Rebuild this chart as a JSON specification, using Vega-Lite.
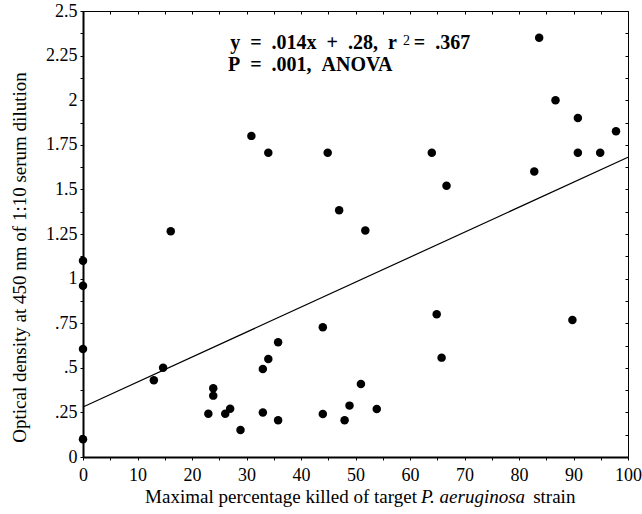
{
  "$schema": "https://vega.github.io/schema/vega-lite/v6.json",
  "autosize": {"type": "none"},
  "width": 545,
  "height": 446,
  "padding": {"left": 83, "top": 11, "right": 14, "bottom": 57},
  "background": "white",
  "config": {
    "view": {"stroke": null},
    "font": "Liberation Serif",
    "axis": {"labelFont": "Liberation Serif", "titleFont": "Liberation Serif", "labelColor": "black", "titleColor": "black", "domainColor": "black", "tickColor": "black", "grid": false, "labelOverlap": false, "labelFlush": false}
  },
  "datasets": {
    "points": [
      {"pct": 0, "od": 1.10}, {"pct": 0, "od": 0.96}, {"pct": 0, "od": 0.605}, {"pct": 0, "od": 0.10},
      {"pct": 13.0, "od": 0.43}, {"pct": 14.7, "od": 0.50}, {"pct": 16.1, "od": 1.265},
      {"pct": 23.0, "od": 0.243}, {"pct": 23.9, "od": 0.385}, {"pct": 23.9, "od": 0.344},
      {"pct": 26.1, "od": 0.243}, {"pct": 27.0, "od": 0.271}, {"pct": 28.9, "od": 0.151},
      {"pct": 30.9, "od": 1.80}, {"pct": 33.0, "od": 0.25}, {"pct": 33.0, "od": 0.493},
      {"pct": 34.0, "od": 0.549}, {"pct": 34.0, "od": 1.706}, {"pct": 35.8, "od": 0.643},
      {"pct": 35.8, "od": 0.206}, {"pct": 44.0, "od": 0.727}, {"pct": 44.0, "od": 0.241},
      {"pct": 44.9, "od": 1.706}, {"pct": 47.0, "od": 1.383}, {"pct": 48.0, "od": 0.206},
      {"pct": 48.9, "od": 0.288}, {"pct": 51.0, "od": 0.409}, {"pct": 51.8, "od": 1.27},
      {"pct": 53.9, "od": 0.269}, {"pct": 64.0, "od": 1.706}, {"pct": 64.9, "od": 0.80},
      {"pct": 65.8, "od": 0.557}, {"pct": 66.7, "od": 1.52}, {"pct": 82.8, "od": 1.60},
      {"pct": 83.7, "od": 2.35}, {"pct": 86.7, "od": 2.0}, {"pct": 89.8, "od": 0.768},
      {"pct": 90.8, "od": 1.90}, {"pct": 90.8, "od": 1.706}, {"pct": 94.9, "od": 1.706},
      {"pct": 97.8, "od": 1.826}
    ],
    "fit": [{"pct": 0, "od": 0.28}, {"pct": 100, "od": 1.68}]
  },
  "resolve": {"axis": {"x": "independent", "y": "independent"}},
  "layer": [
    {
      "data": {"name": "points"},
      "mark": {"type": "point", "filled": true, "shape": "circle", "size": 72, "color": "black", "opacity": 1},
      "encoding": {
        "x": {"field": "pct", "type": "quantitative", "scale": {"domain": [0, 100], "nice": false, "zero": false},
          "axis": {"orient": "bottom", "values": [0,5,10,15,20,25,30,35,40,45,50,55,60,65,70,75,80,85,90,95,100],
            "labelExpr": "datum.value % 10 === 0 ? datum.label : ''", "format": "d",
            "labelFontSize": 18, "labelPadding": 6, "tickSize": 3, "domainWidth": 2, "tickWidth": 1, "title": null}},
        "y": {"field": "od", "type": "quantitative", "scale": {"domain": [0, 2.5], "nice": false, "zero": false},
          "axis": {"orient": "left", "values": [0,0.125,0.25,0.375,0.5,0.625,0.75,0.875,1,1.125,1.25,1.375,1.5,1.625,1.75,1.875,2,2.125,2.25,2.375,2.5],
            "format": ".3~f",
            "labelExpr": "(datum.value * 1000) % 250 !== 0 ? '' : (datum.value > 0 && datum.value < 1 ? replace(datum.label, '0.', '.') : datum.label)",
            "labelFontSize": 18, "labelPadding": 3, "tickSize": 3, "domainWidth": 2, "tickWidth": 1, "labelBaseline": "middle",
            "title": "Optical density at 450 nm of 1:10 serum dilution", "titleFontSize": 19, "titleFontWeight": "normal", "titlePadding": 16, "titleY": 246}}
      }
    },
    {
      "data": {"name": "fit"},
      "mark": {"type": "line", "color": "black", "strokeWidth": 1.2},
      "encoding": {
        "x": {"field": "pct", "type": "quantitative",
          "axis": {"orient": "top", "values": [0,5,10,15,20,25,30,35,40,45,50,55,60,65,70,75,80,85,90,95,100], "labels": false, "tickSize": -3, "domainWidth": 1.2, "title": null}},
        "y": {"field": "od", "type": "quantitative",
          "axis": {"orient": "right", "values": [0,0.125,0.25,0.375,0.5,0.625,0.75,0.875,1,1.125,1.25,1.375,1.5,1.625,1.75,1.875,2,2.125,2.25,2.375,2.5], "labels": false, "tickSize": -3, "domainWidth": 1, "title": null}}
      }
    },
    {
      "data": {"values": [{"pct": 27.0, "od": 2.287, "t": "y\u00a0\u00a0=\u00a0\u00a0.014x\u00a0\u00a0+\u00a0\u00a0.28,\u00a0\u00a0r"}, {"pct": 26.6, "od": 2.164, "t": "P\u00a0\u00a0=\u00a0\u00a0.001,\u00a0\u00a0ANOVA"}, {"pct": 60.7, "od": 2.287, "t": "=\u00a0\u00a0.367"}]},
      "mark": {"type": "text", "align": "left", "baseline": "alphabetic", "font": "Liberation Serif", "fontWeight": "bold", "fontSize": 20, "color": "black"},
      "encoding": {
        "x": {"field": "pct", "type": "quantitative", "axis": null},
        "y": {"field": "od", "type": "quantitative", "axis": null},
        "text": {"field": "t"}
      }
    },
    {
      "data": {"values": [{"pct": 58.7, "od": 2.308, "t": "2"}]},
      "mark": {"type": "text", "align": "left", "baseline": "alphabetic", "font": "Liberation Serif", "fontSize": 14, "color": "black"},
      "encoding": {
        "x": {"field": "pct", "type": "quantitative", "axis": null},
        "y": {"field": "od", "type": "quantitative", "axis": null},
        "text": {"field": "t"}
      }
    },
    {
      "data": {"values": [{"pct": 61.28, "od": 0, "t": "Maximal percentage killed of target"}]},
      "mark": {"type": "text", "align": "right", "baseline": "alphabetic", "font": "Liberation Serif", "fontSize": 19, "color": "black", "dy": 46},
      "encoding": {
        "x": {"field": "pct", "type": "quantitative", "axis": null},
        "y": {"field": "od", "type": "quantitative", "axis": null},
        "text": {"field": "t"}
      }
    },
    {
      "data": {"values": [{"pct": 62.0, "od": 0, "t": "P. aeruginosa"}]},
      "mark": {"type": "text", "align": "left", "baseline": "alphabetic", "font": "Liberation Serif", "fontStyle": "italic", "fontSize": 19, "color": "black", "dy": 46},
      "encoding": {
        "x": {"field": "pct", "type": "quantitative", "axis": null},
        "y": {"field": "od", "type": "quantitative", "axis": null},
        "text": {"field": "t"}
      }
    },
    {
      "data": {"values": [{"pct": 82.6, "od": 0, "t": "strain"}]},
      "mark": {"type": "text", "align": "left", "baseline": "alphabetic", "font": "Liberation Serif", "fontSize": 19, "color": "black", "dy": 46},
      "encoding": {
        "x": {"field": "pct", "type": "quantitative", "axis": null},
        "y": {"field": "od", "type": "quantitative", "axis": null},
        "text": {"field": "t"}
      }
    }
  ]
}
